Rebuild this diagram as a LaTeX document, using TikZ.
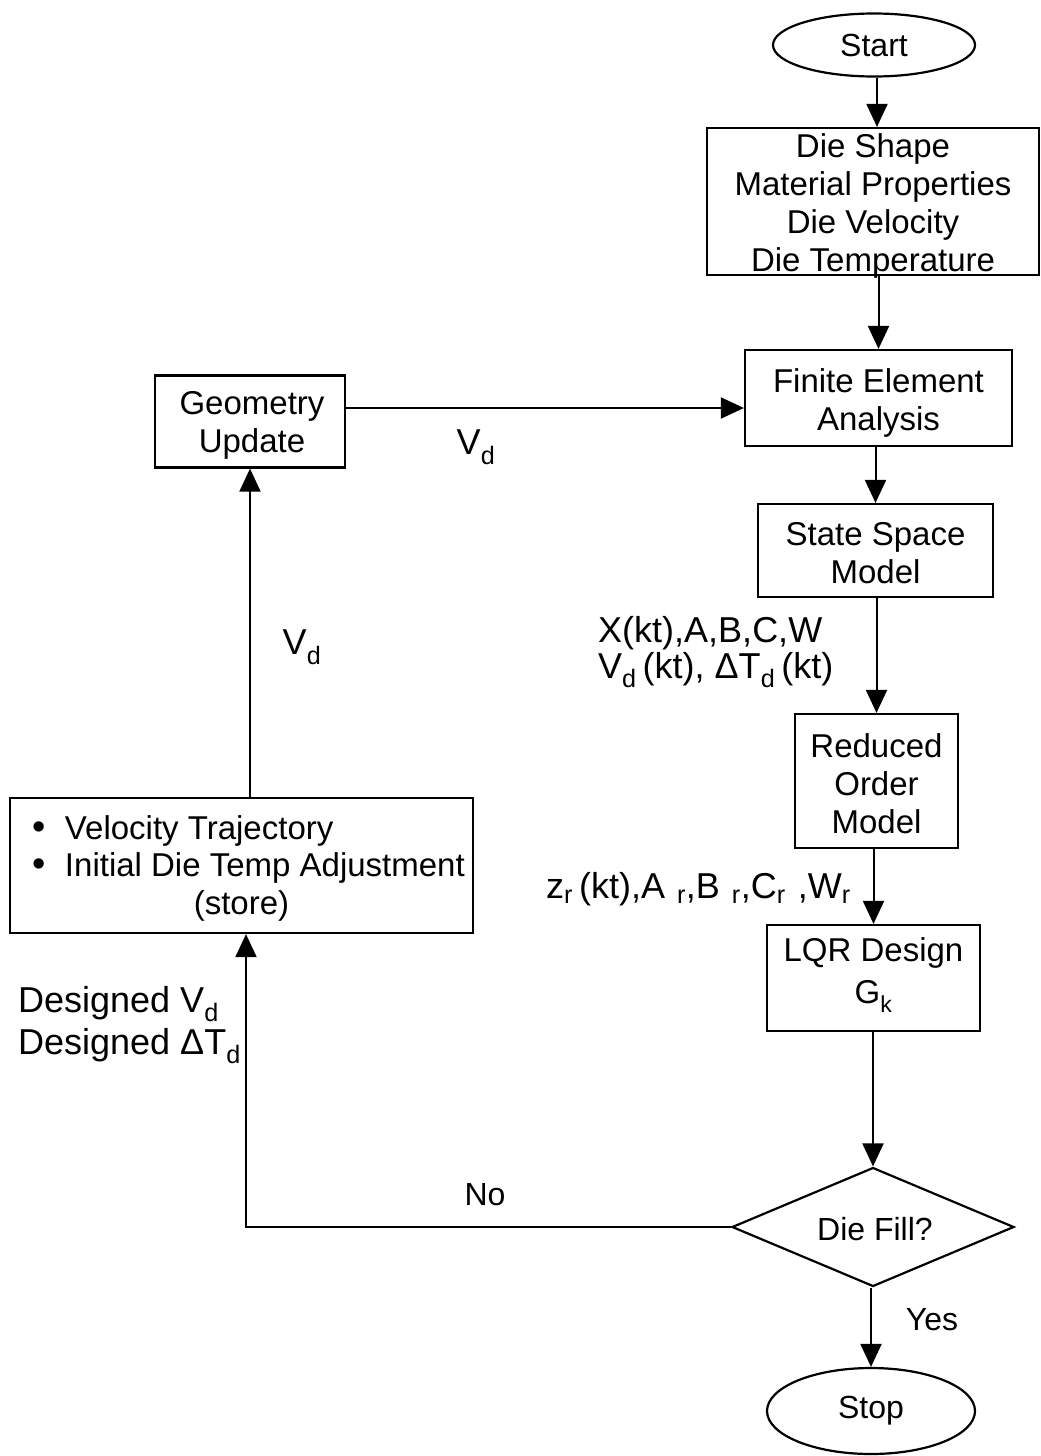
\documentclass[tikz,border=0pt]{standalone}
\usepackage{fontspec}
\usepackage{graphicx}
\setmainfont{Liberation Sans}
\usetikzlibrary{shapes.geometric,arrows.meta}
\newcommand\mysub[1]{\textsubscript{#1}}
\newcommand\mybul{\makebox[18pt][c]{\scalebox{1.15}{\textbullet}}}
\begin{document}
\begin{tikzpicture}[x=1pt,y=-1pt,
  every node/.style={font=\fontsize{32}{37.5}\selectfont},
  box/.style={draw,line width=2.2pt,rectangle,inner sep=0pt,align=center},
  term/.style={draw,line width=2.2pt,ellipse,inner sep=0pt},
  txt/.style={inner sep=0pt,align=center,font=\fontsize{33}{38}\selectfont},
  arr/.style={line width=2pt,-{Triangle[length=23pt,width=21pt]}},
  lab/.style={inner sep=0pt},
  biglab/.style={inner sep=0pt,font=\fontsize{36}{41}\selectfont}]
\useasboundingbox (0,0) rectangle (1041,1456);
% boxes
\node[term,minimum width=202pt,minimum height=63pt] (start) at (874,45) {Start};
\node[box,minimum width=332pt,minimum height=147pt] (inputs) at (873,201.5) {};
\node[txt] (inputs-t) at (873,206)
  {Die Shape\\Material Properties\\Die Velocity\\Die Temperature};
\node[box,minimum width=267pt,minimum height=96pt] (fea) at (878.5,398) {};
\node[txt] (fea-t) at (878.5,403) {Finite Element\\Analysis};
\node[box,minimum width=190pt,minimum height=92pt] (geo) at (250,421.5) {};
\node[txt] (geo-t) at (252,425) {Geometry\\Update};
\node[box,minimum width=235pt,minimum height=93pt] (ssm) at (875.5,550.5) {};
\node[txt] (ssm-t) at (875.5,553) {State Space\\Model};
\node[box,minimum width=163pt,minimum height=134pt] (rom) at (876.5,781) {};
\node[txt] (rom-t) at (876.5,784) {Reduced\\Order\\Model};
\node[box,minimum width=213pt,minimum height=106pt] (lqr) at (873.5,978) {};
\node[txt,font=\fontsize{33}{42}\selectfont] (lqr-t) at (873.5,975) {LQR Design\\G\mysub{k}};
\node[draw,line width=2.2pt,diamond,aspect=2.37,inner sep=0pt,minimum width=282pt,minimum height=119pt] (dia) at (873,1227) {};
\node[lab] (dia-t) at (875,1229) {Die Fill?};
\node[term,minimum width=208pt,minimum height=86pt] (stop) at (871,1411) {Stop};
\node[box,minimum width=463pt,minimum height=135pt] (vel) at (241.5,865.5) {};
\node[txt,font=\fontsize{33}{37.5}\selectfont] (vel-t) at (241.5,868)
  {\makebox[423pt][l]{\mybul\hspace{17pt}Velocity Trajectory}\\
   \makebox[423pt][l]{\mybul\hspace{17pt}Initial Die Temp Adjustment}\\
   (store)};
% connectors
\draw[arr] ([xshift=3pt]start.south) -- ([xshift=3pt]start.south |- inputs.north);
\draw[arr] (fea.north |- inputs.south) -- (fea.north);
\draw[arr] (ssm.north |- fea.south) -- (ssm.north);
\draw[arr] (rom.north |- ssm.south) -- (rom.north);
\draw[arr] (lqr.north |- rom.south) -- (lqr.north);
\draw[arr] (dia.north |- lqr.south) -- (dia.north);
\draw[arr] (stop.north |- dia.south) -- (stop.north);
\draw[arr] (geo.east |- 0,408) -- (fea.west |- 0,408);
\draw[arr] (geo.south |- vel.north) -- (geo.south);
\draw[arr] (dia.west) -| ([xshift=4.5pt]vel.south);
% labels
\node[biglab] (lvd1) at (476,447) {V\mysub{d}};
\node[biglab] (lvd2) at (302,647) {V\mysub{d}};
\node[biglab,anchor=west,align=left,font=\fontsize{36}{36}\selectfont] (lx) at (598,652)
  {X(kt),A,B,C,W\\V\mysub{d}\,(kt), ΔT\mysub{d}\,(kt)};
\node[biglab,anchor=west] (lz) at (546,889)
  {z\mysub{r}\,(kt),A\,\,\mysub{r},B\,\,\mysub{r},C\mysub{r}\,\,,W\mysub{r}};
\node[biglab,anchor=west,align=left,font=\fontsize{36}{42}\selectfont] (ldes) at (18,1025)
  {Designed V\mysub{d}\\Designed ΔT\mysub{d}};
\node[lab] (lno) at (485,1195) {No};
\node[lab] (lyes) at (932,1320) {Yes};
\end{tikzpicture}
\end{document}
